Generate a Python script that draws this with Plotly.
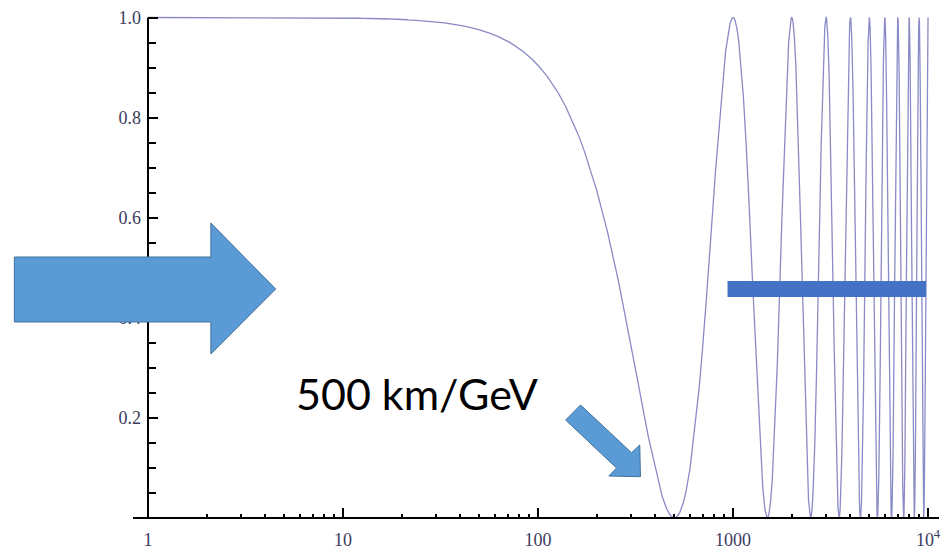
import numpy as np
import plotly.graph_objects as go

# ---- data ----
# survival probability vs L/E (km/GeV); first minimum at 500 km/GeV, full mixing (depth 1.0)
first_minimum_LE = 500.0
mixing_depth = 1.0
LE_min, LE_max = 1.0, 10000.0

x_major_vals = [1, 10, 100, 1000, 10000]
x_major_text = ["1", "10", "100", "1000", "10<sup>4</sup>"]
y_major_vals = [0.2, 0.4, 0.6, 0.8, 1.0]
y_major_text = ["0.2", "0.4", "0.6", "0.8", "1.0"]
annotation_text = "500 km/GeV"

# curve of the plotted function
LE = np.logspace(np.log10(LE_min), np.log10(LE_max), 30000)
P = 1.0 - mixing_depth * np.sin(np.pi * LE / (2 * first_minimum_LE)) ** 2

x_minor_vals = [m * 10 ** d for d in range(4) for m in range(2, 10)]
y_minor_vals = [round(0.05 * k, 2) for k in range(1, 21) if k % 4 != 0]

W, H = 941, 551
L, R, T, B = 148, 0, 0, 33
PW, PH = W - L - R, H - T - B


def px(x):
    return (x - L) / PW


def py(y):
    return (H - B - y) / PH


def path(points):
    s = "M " + " L ".join(f"{px(a):.5f},{py(b):.5f}" for a, b in points) + " Z"
    return s


fig = go.Figure()
fig.add_trace(go.Scatter(x=LE, y=P, mode="lines",
                         line=dict(color="#8a8ac6", width=1.3),
                         hoverinfo="skip", showlegend=False))

tickfont = dict(family="Liberation Serif", size=18, color="#3c3c5c")

fig.update_xaxes(type="log", range=[0, 4 + (W - 930) / 195.5],
                 showgrid=False, zeroline=False, showline=False,
                 tickmode="array", tickvals=x_major_vals, ticktext=x_major_text,
                 ticks="inside", ticklen=10, tickwidth=1.5, tickcolor="black",
                 tickfont=tickfont, ticklabelstandoff=9, ticklabeloverflow="allow",
                 minor=dict(tickmode="array", tickvals=x_minor_vals, ticks="inside",
                            ticklen=4, tickwidth=1.5, tickcolor="black", showgrid=False))
fig.update_yaxes(range=[0, (H - B) / 500.5],
                 showgrid=False, zeroline=False, showline=False,
                 tickmode="array", tickvals=y_major_vals, ticktext=y_major_text,
                 ticks="inside", ticklen=10, tickwidth=1.5, tickcolor="black",
                 tickfont=tickfont, ticklabelstandoff=6,
                 minor=dict(tickmode="array", tickvals=y_minor_vals, ticks="inside",
                            ticklen=8, tickwidth=1.5, tickcolor="black", showgrid=False))

shapes = [
    # axes
    dict(type="line", xref="paper", yref="paper", x0=px(133), x1=1, y0=0, y1=0,
         line=dict(color="black", width=2)),
    dict(type="line", xref="paper", yref="y", x0=0, x1=0, y0=0, y1=1.0,
         line=dict(color="black", width=2)),
    # big arrow on the left
    dict(type="path", xref="paper", yref="paper",
         path=path([(14, 257), (211, 257), (211, 223), (276, 289),
                    (211, 354), (211, 322), (14, 322)]),
         fillcolor="#5b9bd5", line=dict(color="#41719c", width=1)),
    # small diagonal arrow
    dict(type="path", xref="paper", yref="paper",
         path=path([(581.7, 405), (632.7, 452.7), (641, 445), (641.7, 476.7),
                    (610, 476), (617.7, 468), (566.7, 420)]),
         fillcolor="#5b9bd5", line=dict(color="#41719c", width=1)),
    # horizontal bar
    dict(type="rect", xref="paper", yref="paper", x0=px(729), x1=px(928),
         y0=py(297), y1=py(281), fillcolor="#4472c4", line=dict(width=0)),
]

fig.update_layout(
    width=W, height=H, margin=dict(l=L, r=R, t=T, b=B),
    paper_bgcolor="white", plot_bgcolor="white",
    shapes=shapes,
    annotations=[dict(text=annotation_text, xref="paper", yref="paper",
                      x=px(294), y=py(393), xanchor="left", yanchor="middle",
                      showarrow=False,
                      font=dict(family="Lato", size=43, color="black"))],
)

fig.write_html("out.html")
